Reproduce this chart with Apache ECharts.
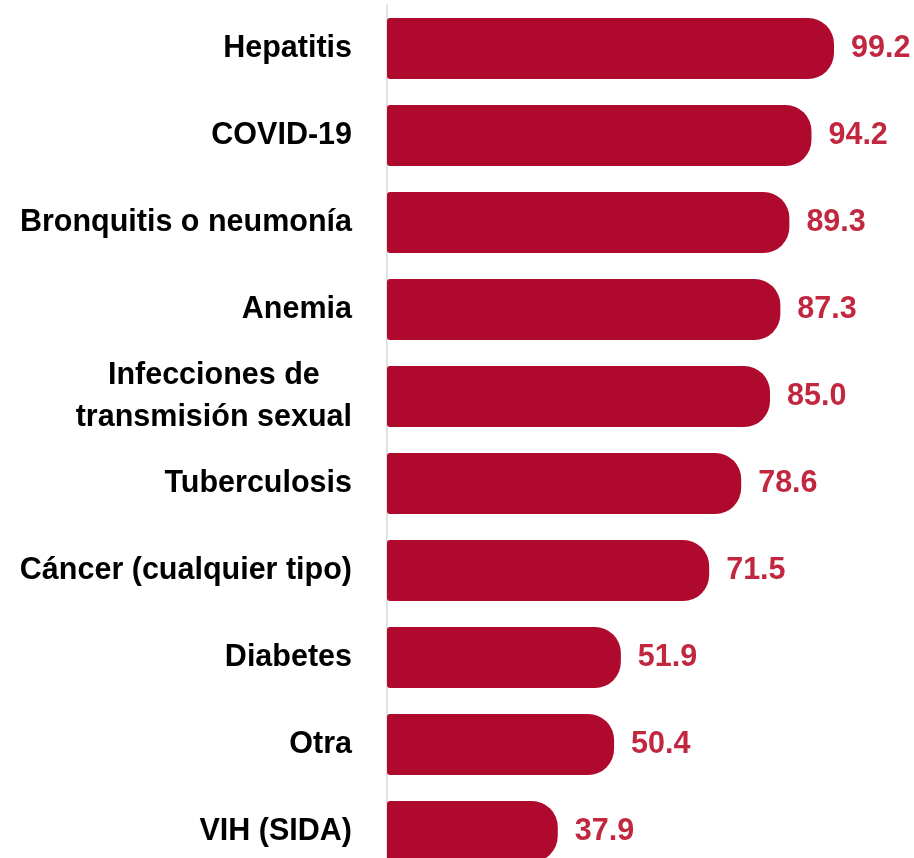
<!DOCTYPE html>
<html>
<head>
<meta charset="utf-8">
<script src="https://cdn.jsdelivr.net/npm/echarts@6/dist/echarts.min.js"></script>
<style>
  html, body { margin: 0; padding: 0; background: #fff; }
  #chart { width: 914px; height: 858px; }
</style>
</head>
<body>
<div id="chart"></div>
<script>
const categories = [
  'Hepatitis',
  'COVID-19',
  'Bronquitis o neumonía',
  'Anemia',
  'Infecciones de\ntransmisión sexual',
  'Tuberculosis',
  'Cáncer (cualquier tipo)',
  'Diabetes',
  'Otra',
  'VIH (SIDA)'
];
const values = [99.2, 94.2, 89.3, 87.3, 85.0, 78.6, 71.5, 51.9, 50.4, 37.9];

const font = '"Liberation Sans Narrow", "Arial Narrow", "Liberation Sans", sans-serif';

const chart = echarts.init(document.getElementById('chart'));

const option = {
  animation: false,
  grid: {
    left: 387,
    top: 5,
    width: 450.6,
    height: 870,
    containLabel: false,
    outerBoundsMode: 'none'
  },
  xAxis: {
    type: 'value',
    min: 0,
    max: 100,
    show: false
  },
  yAxis: {
    type: 'category',
    data: categories,
    inverse: true,
    axisLine: { show: true, lineStyle: { color: '#d9d9d9', width: 1.5 } },
    axisTick: { show: false },
    axisLabel: {
      margin: 35,
      color: '#000',
      fontFamily: font,
      fontWeight: 'bold',
      fontSize: 30.5,
      lineHeight: 42,
      formatter: function (v) {
        return v.split('\n').map(s => '{c|' + s + '}').join('\n');
      },
      rich: {
        c: {
          align: 'center',
          color: '#000',
          fontFamily: font,
          fontWeight: 'bold',
          fontSize: 30.5,
          lineHeight: 42
        }
      }
    }
  },
  series: [
    {
      type: 'bar',
      data: values,
      barWidth: 61,
      itemStyle: {
        color: '#af0a2e',
        borderRadius: [3, 26, 26, 3]
      },
      label: {
        show: true,
        position: 'right',
        distance: 17,
        color: '#c1273f',
        fontFamily: font,
        fontWeight: 'bold',
        fontSize: 30.5,
        formatter: p => p.value.toFixed(1)
      }
    }
  ]
};

chart.setOption(option);
</script>
</body>
</html>
